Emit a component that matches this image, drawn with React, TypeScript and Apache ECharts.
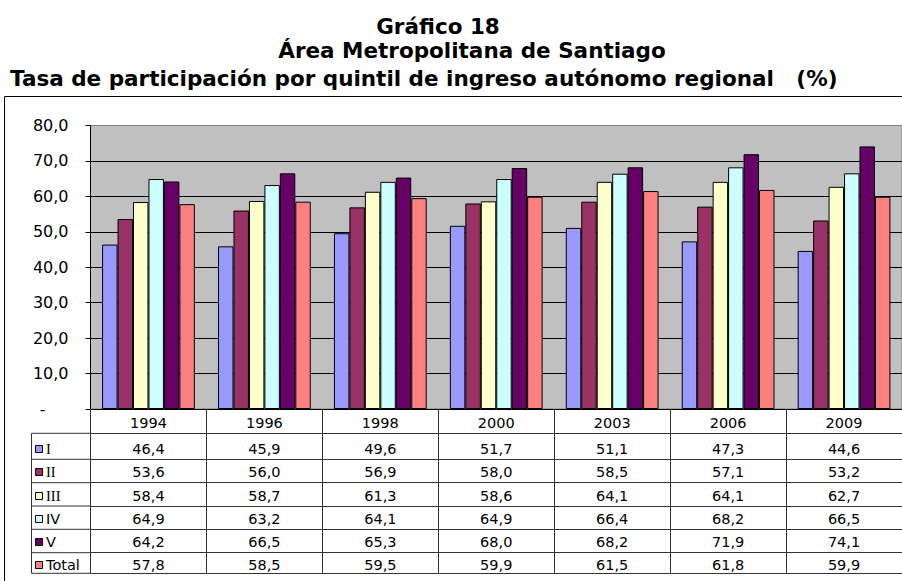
import React, { useEffect, useRef } from "react";
import * as echarts from "echarts";

const years = ["1994", "1996", "1998", "2000", "2003", "2006", "2009"];
const seriesNames = ["I", "II", "III", "IV", "V", "Total"];
const qI = [46.4, 45.9, 49.6, 51.7, 51.1, 47.3, 44.6];
const qII = [53.6, 56.0, 56.9, 58.0, 58.5, 57.1, 53.2];
const qIII = [58.4, 58.7, 61.3, 58.6, 64.1, 64.1, 62.7];
const qIV = [64.9, 63.2, 64.1, 64.9, 66.4, 68.2, 66.5];
const qV = [64.2, 66.5, 65.3, 68.0, 68.2, 71.9, 74.1];
const qTotal = [57.8, 58.5, 59.5, 59.9, 61.5, 61.8, 59.9];
const seriesData = [qI, qII, qIII, qIV, qV, qTotal];
const yTicks = { min: 0, max: 80, interval: 10 };

const colors = ["#9999FF", "#993366", "#FFFFCC", "#CCFFFF", "#660066", "#FF8080"];
const legendFonts = ["Liberation Serif", "Liberation Serif", "Liberation Serif", "DejaVu Sans", "DejaVu Sans", "DejaVu Sans"];

// layout
const W = 902;
const H = 581;
const PLOT_LEFT = 90.5;
const PLOT_TOP = 125.5;
const AXIS_Y = 409;
// table row separators (offset below the x axis line)
const rowLineOffsets = [24.3, 50.3, 73.7, 97, 120.3, 143.7, 164.3];
const rowTextCenters = [448.8, 472.3, 495.6, 518.9, 542.2, 565];
const LEG_LEFT = 31;
const TITLE_FONT_SIZE = 21.5;
const TABLE_FONT_SIZE = 14.5;

const fmt = (v: number) => v.toFixed(1).replace(".", ",");
const FONT = "DejaVu Sans";

export default function App() {
  const ref = useRef<HTMLDivElement>(null);
  useEffect(() => {
    if (!ref.current) return;
    const chart = echarts.init(ref.current, undefined, { renderer: "svg" });

    const xAxes: any[] = [
      {
        type: "category",
        data: years,
        position: "bottom",
        axisLine: { show: true, lineStyle: { color: "#000", width: 1 } },
        axisTick: {
          show: true,
          interval: 0,
          alignWithLabel: false,
          length: rowLineOffsets[rowLineOffsets.length - 1],
          lineStyle: { color: "#333", width: 1 },
        },
        axisLabel: {
          interval: 0,
          margin: 14,
          verticalAlign: "middle",
          fontFamily: FONT,
          fontSize: TABLE_FONT_SIZE,
          color: "#000",
        },
        splitLine: { show: false },
      },
    ];
    seriesData.forEach((arr, i) => {
      xAxes.push({
        type: "category",
        data: years,
        position: "bottom",
        offset: rowLineOffsets[i],
        axisLine: { show: true, lineStyle: { color: "#333", width: 1 } },
        axisTick: { show: false },
        axisLabel: {
          interval: 0,
          margin: rowTextCenters[i] - (AXIS_Y + rowLineOffsets[i]),
          verticalAlign: "middle",
          fontFamily: FONT,
          fontSize: TABLE_FONT_SIZE,
          color: "#000",
          formatter: (_v: string, idx: number) => fmt(arr[idx]),
        },
        splitLine: { show: false },
      });
    });
    xAxes.push({
      type: "category",
      data: years,
      position: "bottom",
      offset: rowLineOffsets[rowLineOffsets.length - 1],
      axisLine: { show: true, lineStyle: { color: "#333", width: 1 } },
      axisTick: { show: false },
      axisLabel: { show: false },
      splitLine: { show: false },
    });

    const graphics: any[] = [];
    // outer frame
    graphics.push({
      type: "rect",
      shape: { x: 4.5, y: 96.5, width: 910, height: 500 },
      style: { fill: "none", stroke: "#000", lineWidth: 1 },
      silent: true,
      z: -10,
    });
    const titleFont = `bold ${TITLE_FONT_SIZE}px "${FONT}"`;
    graphics.push({
      type: "text",
      x: 438,
      y: 26,
      style: { text: "Gráfico 18", font: titleFont, fill: "#000", align: "center", verticalAlign: "middle" },
    });
    graphics.push({
      type: "text",
      x: 472,
      y: 50,
      style: { text: "Área Metropolitana de Santiago", font: titleFont, fill: "#000", align: "center", verticalAlign: "middle" },
    });
    graphics.push({
      type: "text",
      x: 10,
      y: 78,
      style: {
        text: "Tasa de participación por quintil de ingreso autónomo regional\u00A0\u00A0\u00A0(%)",
        font: titleFont,
        fill: "#000",
        align: "left",
        verticalAlign: "middle",
      },
    });
    // legend column
    const firstLine = AXIS_Y + rowLineOffsets[0];
    const lastLine = AXIS_Y + rowLineOffsets[rowLineOffsets.length - 1];
    graphics.push({
      type: "line",
      shape: { x1: LEG_LEFT + 0.5, y1: firstLine, x2: LEG_LEFT + 0.5, y2: lastLine },
      style: { stroke: "#333", lineWidth: 1 },
    });
    rowLineOffsets.forEach((o) => {
      graphics.push({
        type: "line",
        shape: { x1: LEG_LEFT + 0.5, y1: AXIS_Y + o, x2: PLOT_LEFT, y2: AXIS_Y + o },
        style: { stroke: "#333", lineWidth: 1 },
      });
    });
    seriesNames.forEach((name, i) => {
      const cy = rowTextCenters[i];
      graphics.push({
        type: "rect",
        shape: { x: 35.5, y: Math.round(cy) - 3.5, width: 7, height: 7 },
        style: { fill: colors[i], stroke: "#000", lineWidth: 1 },
      });
      graphics.push({
        type: "text",
        x: 46,
        y: cy,
        style: { text: name, font: `14.5px "${legendFonts[i]}"`, fill: "#000", align: "left", verticalAlign: "middle" },
      });
    });

    const splitColors = [] as string[];
    for (let v = yTicks.min; v <= yTicks.max; v += yTicks.interval) {
      splitColors.push(v === yTicks.max ? "#808080" : "#000");
    }

    chart.setOption({
      animation: false,
      backgroundColor: "#fff",
      grid: {
        left: PLOT_LEFT,
        right: W - 904,
        top: PLOT_TOP,
        bottom: H - AXIS_Y,
        show: true,
        backgroundColor: "#C0C0C0",
        borderColor: "#808080",
        borderWidth: 1,
        containLabel: false,
      },
      xAxis: xAxes,
      yAxis: {
        type: "value",
        min: yTicks.min,
        max: yTicks.max,
        interval: yTicks.interval,
        axisLine: { show: true, lineStyle: { color: "#000", width: 1 } },
        axisTick: { show: true, length: 5, lineStyle: { color: "#000" } },
        splitLine: { show: true, lineStyle: { color: splitColors, width: 1 } },
        axisLabel: {
          margin: 22,
          fontFamily: FONT,
          fontSize: 16,
          color: "#000",
          formatter: (v: number) => (v === 0 ? "{z|-}" : fmt(v)),
          rich: { z: { fontFamily: FONT, fontSize: 16, color: "#000", padding: [0, 23, 0, 0] } },
        },
      },
      series: seriesData.map((arr, i) => ({
        type: "bar",
        name: seriesNames[i],
        data: arr,
        xAxisIndex: 0,
        yAxisIndex: 0,
        barGap: "0%",
        barCategoryGap: "20%",
        itemStyle: { color: colors[i], borderColor: "#000", borderWidth: 1 },
      })),
      graphic: graphics,
    });
    return () => chart.dispose();
  }, []);
  return (
    <div
      ref={ref}
      style={{ position: "fixed", left: 0, top: 0, width: W, height: H, background: "#fff" }}
    />
  );
}
